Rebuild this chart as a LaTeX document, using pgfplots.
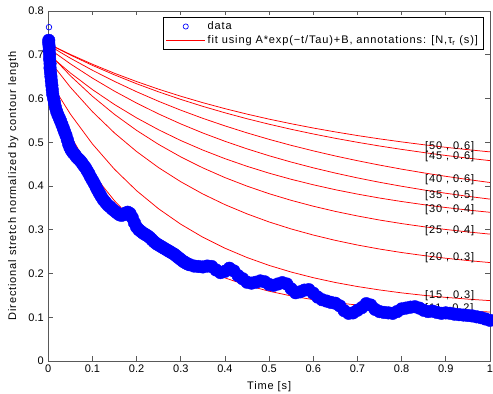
\documentclass[border=0pt]{standalone}
\usepackage{fontspec}
\setmainfont{Liberation Sans}
\newfontfamily\mfont[LetterSpace=8]{Liberation Sans}
\usepackage{pgfplots}
\pgfplotsset{compat=1.18}
\pgfplotsset{fitline/.style={red, line width=0.75bp, forget plot}}
\begin{document}
\begin{tikzpicture}
\begin{axis}[
  scale only axis, width=441.6bp, height=350bp,
  xmin=0, xmax=1, ymin=0, ymax=0.8,
  xtick={0,0.1,0.2,0.3,0.4,0.5,0.6,0.7,0.8,0.9,1},
  xticklabels={0,0.1,0.2,0.3,0.4,0.5,0.6,0.7,0.8,0.9,1},
  ytick={0,0.1,0.2,0.3,0.4,0.5,0.6,0.7,0.8},
  yticklabels={0,0.1,0.2,0.3,0.4,0.5,0.6,0.7,0.8},
  /pgf/number format/assume math mode=true,
  tick align=inside, major tick length=4.5bp,
  axis line style={black!65, line width=0.8bp},
  every tick/.style={black!65, line width=0.6bp},
  tick label style={font=\fontsize{11bp}{13bp}\selectfont, black},
  xticklabel style={yshift=-0.5bp},
  yticklabel style={xshift=-1bp},
  xlabel={Time [s]},
  ylabel={Directional stretch normalized by contour length},
  label style={font=\fontsize{11bp}{13bp}\mfont},
  xlabel style={at={(axis description cs:0.5,-0.0734)}, anchor=center},
  ylabel style={at={(axis description cs:-0.0791,0.5)}, anchor=center},
  legend cell align=left,
  legend style={at={(axis description cs:0.9849,0.9829)}, anchor=north east,
    font=\fontsize{11bp}{13bp}\mfont, draw=black, line width=0.6bp,
    inner xsep=3bp, inner ysep=2.5bp, row sep=0.5bp},
]
\addlegendimage{legend image code/.code={\draw[blue, line width=0.7bp] (19.5bp,0) circle (2.6bp); \path[draw=none] (0,0) -- (39bp,0);}}
\addlegendentry{data}
\addlegendimage{legend image code/.code={\draw[red, line width=0.7bp] (0,0) -- (39bp,0);}}
\addlegendentry{fit using A*exp(−t/Tau)+B, annotations: [N,τ\textsubscript{r} (s)]}

% data
\addplot[only marks, mark=*, mark size=6.3bp, blue, forget plot] coordinates {
(0.001,0.733) (0.001,0.726) (0.002,0.718) (0.002,0.710) (0.003,0.700) (0.003,0.690)
(0.004,0.680) (0.004,0.670) (0.005,0.660) (0.006,0.650) (0.007,0.640) (0.008,0.630)
(0.009,0.620) (0.010,0.610) (0.012,0.600) (0.014,0.590) (0.016,0.580) (0.019,0.570)
(0.022,0.562) (0.025,0.555) (0.028,0.548) (0.031,0.540) (0.034,0.532) (0.037,0.524)
(0.040,0.516) (0.043,0.506) (0.046,0.496) (0.049,0.488) (0.052,0.482) (0.056,0.476)
(0.060,0.472) (0.064,0.466) (0.068,0.462) (0.072,0.458) (0.076,0.453) (0.080,0.447)
(0.084,0.442) (0.088,0.435) (0.092,0.428) (0.096,0.420) (0.100,0.413) (0.104,0.406)
(0.108,0.398) (0.112,0.390) (0.116,0.383) (0.120,0.376) (0.125,0.368) (0.130,0.362)
(0.135,0.356) (0.140,0.352) (0.145,0.347) (0.150,0.343) (0.155,0.339) (0.160,0.335)
(0.165,0.333) (0.170,0.334) (0.175,0.338) (0.180,0.340) (0.185,0.337) (0.190,0.328)
(0.195,0.316) (0.200,0.306) (0.205,0.300) (0.210,0.296) (0.215,0.292) (0.220,0.289)
(0.225,0.286) (0.230,0.282) (0.235,0.277) (0.240,0.272) (0.245,0.268) (0.250,0.265)
(0.255,0.262) (0.260,0.259) (0.265,0.256) (0.270,0.253) (0.275,0.250) (0.280,0.247)
(0.285,0.244) (0.290,0.240) (0.295,0.236) (0.300,0.232) (0.305,0.228) (0.310,0.225)
(0.315,0.222) (0.320,0.220) (0.330,0.217) (0.340,0.216) (0.350,0.215) (0.360,0.217)
(0.370,0.216) (0.380,0.208) (0.390,0.202) (0.400,0.205) (0.410,0.212) (0.420,0.206)
(0.430,0.195) (0.440,0.188) (0.450,0.180) (0.460,0.178) (0.470,0.180) (0.480,0.183)
(0.490,0.181) (0.500,0.175) (0.510,0.173) (0.520,0.176) (0.530,0.179) (0.540,0.176)
(0.550,0.165) (0.560,0.156) (0.570,0.158) (0.580,0.162) (0.590,0.163) (0.600,0.155)
(0.610,0.146) (0.620,0.140) (0.630,0.137) (0.640,0.134) (0.650,0.132) (0.660,0.126)
(0.670,0.115) (0.680,0.109) (0.690,0.110) (0.700,0.116) (0.710,0.122) (0.720,0.131)
(0.730,0.128) (0.740,0.118) (0.750,0.113) (0.760,0.111) (0.770,0.110) (0.780,0.109)
(0.790,0.113) (0.800,0.119) (0.810,0.121) (0.820,0.123) (0.830,0.124) (0.840,0.121)
(0.850,0.116) (0.860,0.113) (0.870,0.114) (0.880,0.111) (0.890,0.109) (0.900,0.110)
(0.910,0.109) (0.920,0.107) (0.930,0.106) (0.940,0.105) (0.950,0.104) (0.960,0.103)
(0.970,0.101) (0.980,0.099) (0.990,0.096) (1.000,0.093)
};
\addplot[only marks, mark=o, mark size=2.8bp, blue, line width=0.7bp, forget plot] coordinates {(0.0015,0.763)};

% fits
\addplot[fitline] coordinates {(0,0.7250) (0.05,0.7007) (0.1,0.6783) (0.15,0.6576) (0.2,0.6387) (0.25,0.6212) (0.3,0.6052) (0.35,0.5904) (0.4,0.5768) (0.45,0.5643) (0.5,0.5528) (0.55,0.5423) (0.6,0.5325) (0.65,0.5236) (0.7,0.5153) (0.75,0.5077) (0.8,0.5008) (0.85,0.4943) (0.9,0.4884) (0.95,0.4830) (1,0.4780)};
\addplot[fitline] coordinates {(0,0.7250) (0.05,0.6994) (0.1,0.6757) (0.15,0.6539) (0.2,0.6337) (0.25,0.6151) (0.3,0.5979) (0.35,0.5820) (0.4,0.5673) (0.45,0.5537) (0.5,0.5412) (0.55,0.5296) (0.6,0.5189) (0.65,0.5090) (0.7,0.4999) (0.75,0.4914) (0.8,0.4837) (0.85,0.4765) (0.9,0.4698) (0.95,0.4637) (1,0.4580)};
\addplot[fitline] coordinates {(0,0.7220) (0.05,0.6921) (0.1,0.6645) (0.15,0.6390) (0.2,0.6154) (0.25,0.5935) (0.3,0.5733) (0.35,0.5546) (0.4,0.5374) (0.45,0.5214) (0.5,0.5066) (0.55,0.4929) (0.6,0.4803) (0.65,0.4686) (0.7,0.4578) (0.75,0.4478) (0.8,0.4385) (0.85,0.4300) (0.9,0.4221) (0.95,0.4148) (1,0.4080)};
\addplot[fitline] coordinates {(0,0.7150) (0.05,0.6792) (0.1,0.6465) (0.15,0.6167) (0.2,0.5895) (0.25,0.5646) (0.3,0.5419) (0.35,0.5211) (0.4,0.5022) (0.45,0.4849) (0.5,0.4691) (0.55,0.4547) (0.6,0.4415) (0.65,0.4295) (0.7,0.4185) (0.75,0.4085) (0.8,0.3994) (0.85,0.3910) (0.9,0.3834) (0.95,0.3764) (1,0.3700)};
\addplot[fitline] coordinates {(0,0.7010) (0.05,0.6584) (0.1,0.6203) (0.15,0.5862) (0.2,0.5557) (0.25,0.5284) (0.3,0.5039) (0.35,0.4821) (0.4,0.4625) (0.45,0.4450) (0.5,0.4293) (0.55,0.4153) (0.6,0.4028) (0.65,0.3915) (0.7,0.3815) (0.75,0.3725) (0.8,0.3645) (0.85,0.3573) (0.9,0.3508) (0.95,0.3450) (1,0.3399)};
\addplot[fitline] coordinates {(0,0.7050) (0.05,0.6519) (0.1,0.6050) (0.15,0.5636) (0.2,0.5271) (0.25,0.4949) (0.3,0.4665) (0.35,0.4414) (0.4,0.4192) (0.45,0.3997) (0.5,0.3824) (0.55,0.3672) (0.6,0.3538) (0.65,0.3419) (0.7,0.3315) (0.75,0.3222) (0.8,0.3141) (0.85,0.3069) (0.9,0.3006) (0.95,0.2950) (1,0.2900)};
\addplot[fitline] coordinates {(0,0.6900) (0.05,0.6257) (0.1,0.5698) (0.15,0.5211) (0.2,0.4787) (0.25,0.4418) (0.3,0.4097) (0.35,0.3817) (0.4,0.3574) (0.45,0.3363) (0.5,0.3178) (0.55,0.3018) (0.6,0.2879) (0.65,0.2757) (0.7,0.2651) (0.75,0.2559) (0.8,0.2479) (0.85,0.2410) (0.9,0.2349) (0.95,0.2296) (1,0.2250)};
\addplot[fitline] coordinates {(0,0.6450) (0.05,0.5643) (0.1,0.4960) (0.15,0.4381) (0.2,0.3892) (0.25,0.3477) (0.3,0.3126) (0.35,0.2829) (0.4,0.2578) (0.45,0.2365) (0.5,0.2185) (0.55,0.2033) (0.6,0.1904) (0.65,0.1794) (0.7,0.1702) (0.75,0.1624) (0.8,0.1557) (0.85,0.1501) (0.9,0.1454) (0.95,0.1414) (1,0.1380)};
\addplot[fitline] coordinates {(0,0.6200) (0.025,0.5649) (0.05,0.5156) (0.075,0.4717) (0.1,0.4325) (0.125,0.3975) (0.15,0.3662) (0.2,0.3134) (0.25,0.2714) (0.3,0.2379) (0.35,0.2112) (0.4,0.1899) (0.45,0.1730) (0.5,0.1595) (0.55,0.1487) (0.6,0.1402) (0.65,0.1334) (0.7,0.1279) (0.75,0.1236) (0.8,0.1201) (0.85,0.1174) (0.9,0.1152) (0.95,0.1134) (1,0.1121)};

% annotations
\begin{scope}[every node/.style={anchor=west, inner sep=0pt, font=\fontsize{11bp}{13bp}\mfont}]
\node at (axis cs:0.853,0.490) {[50 , 0.6]};
\node at (axis cs:0.853,0.467) {[45 , 0.6]};
\node at (axis cs:0.853,0.414) {[40 , 0.6]};
\node at (axis cs:0.853,0.378) {[35 , 0.5]};
\node at (axis cs:0.853,0.347) {[30 , 0.4]};
\node at (axis cs:0.853,0.299) {[25 , 0.4]};
\node at (axis cs:0.853,0.236) {[20 , 0.3]};
\node at (axis cs:0.853,0.149) {[15 , 0.3]};
\node at (axis cs:0.853,0.119) {[11 , 0.2]};
\end{scope}
\end{axis}
\path (current axis.south west) ++(-48.3bp,-33bp) coordinate (bbbl);
\path (current axis.north east) ++(3.1bp,11bp) coordinate (bbtr);
\pgfresetboundingbox
\path[use as bounding box] (bbbl) rectangle (bbtr);
\end{tikzpicture}
\end{document}
